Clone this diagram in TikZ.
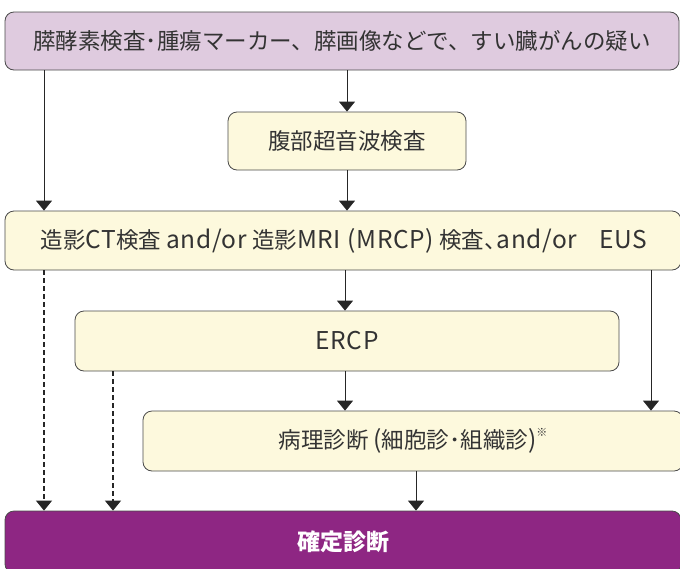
\documentclass[tikz,border=0pt]{standalone}
\usepackage{fontspec}
\setmainfont{Noto Sans CJK JP}
\newfontfamily\latfont[LetterSpace=3]{Noto Sans CJK JP}
\newcommand{\lat}[1]{{\latfont\fontsize{24.5}{26}\selectfont #1}}
\usetikzlibrary{arrows.meta}
\definecolor{lilac}{HTML}{DFCBDF}
\definecolor{cream}{HTML}{FDF9DD}
\definecolor{plum}{HTML}{8E2683}
\definecolor{edge}{HTML}{4A4A4A}
\tikzset{
  box/.style={draw=edge, line width=0.8pt, rounded corners=9pt, inner sep=0pt, font=\fontsize{22.5}{26}\selectfont, text=black!80},
  conn/.style={draw=black!85, line width=0.8pt, -{Triangle[width=16pt,length=10pt]}},
  dconn/.style={conn, line width=1.1pt, dash pattern=on 5pt off 3pt},
}
\begin{document}
\begin{tikzpicture}[x=1pt,y=-1pt]
\useasboundingbox (0,0) rectangle (680,568);
\clip (0,0) rectangle (680,568);
% boxes
\node[box, fill=lilac, minimum width=674pt, minimum height=58pt] (top) at (342,41) {膵酵素検査･腫瘍マーカー、膵画像などで、すい臓がんの疑い};
\node[box, fill=cream, minimum width=238pt, minimum height=58pt] (us) at (347,141) {腹部超音波検査};
\node[box, fill=cream, minimum width=676pt, minimum height=59pt] (ct) at (343,240.5) {\hspace{2pt}造影\lat{CT}検査 \lat{and/or} 造影\lat{MRI (MRCP)} 検査、\hspace{-0.45em}\lat{and/or\hspace{0.9em}EUS}};
\node[box, fill=cream, minimum width=544pt, minimum height=60pt] (ercp) at (347,341) {\lat{ERCP}};
\node[box, fill=cream, minimum width=540pt, minimum height=60pt] (path) at (413,441) {病理診断 \lat{(}細胞診･組織診\lat{)}\raisebox{0.55em}{\fontsize{11}{11}\selectfont ※}};
\node[box, fill=plum, text=white, minimum width=676pt, minimum height=62pt, font=\fontsize{23}{26}\selectfont\bfseries] (fin) at (343,542) {確定診断};
% connectors
\draw[conn] (top.south -| 44,0) -- (ct.north -| 44,0);
\draw[conn] (top.south -| us.north) -- (us.north);
\draw[conn] (us.south) -- (ct.north -| us.south);
\draw[conn] (ct.south -| 345,0) -- (ercp.north -| 345,0);
\draw[conn] (ercp.south -| 345,0) -- (path.north -| 345,0);
\draw[conn] (ct.south -| 651,0) -- (path.north -| 651,0);
\draw[dconn] (ct.south -| 44,0) -- (fin.north -| 44,0);
\draw[dconn] (ercp.south -| 113,0) -- (fin.north -| 113,0);
\draw[conn] (path.south -| 416,0) -- (fin.north -| 416,0);
\end{tikzpicture}
\end{document}
